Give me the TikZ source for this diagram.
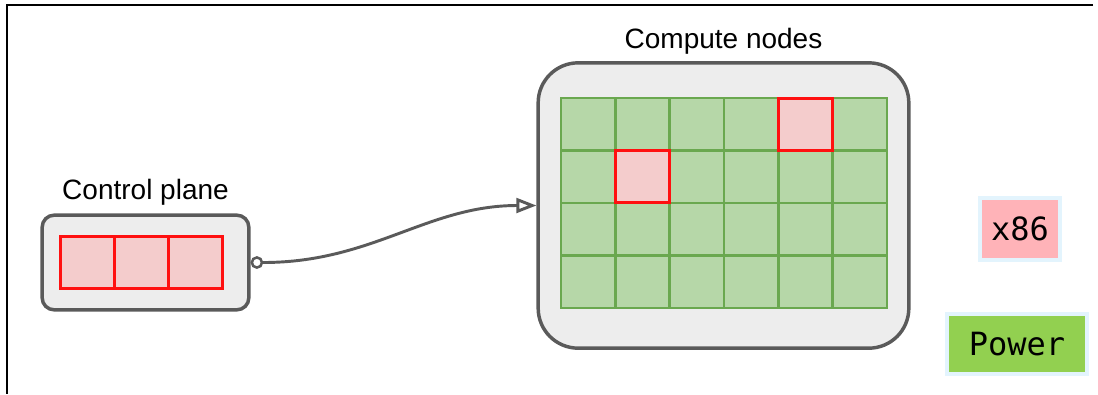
\documentclass[tikz,border=0pt]{standalone}
\usepackage{fontspec}
\setmainfont{Liberation Sans}
\setmonofont{DejaVu Sans Mono}
\usepackage{xcolor}
\usepackage{tikz}
\usetikzlibrary{arrows.meta,positioning}
\definecolor{boxgray}{HTML}{EDEDED}
\definecolor{linegray}{HTML}{5A5A5A}
\definecolor{cellgreen}{HTML}{B6D7A8}
\definecolor{gridgreen}{HTML}{6AA84F}
\definecolor{cellpink}{HTML}{F4CCCC}
\definecolor{cellred}{HTML}{FF1010}
\definecolor{tagpink}{HTML}{FFB3B8}
\definecolor{taggreen}{HTML}{92D050}
\definecolor{tagblue}{HTML}{E3F4FD}
\tikzset{
  groupbox/.style={draw=linegray, line width=2.6pt, fill=boxgray, inner sep=0pt},
  cell/.style={draw=gridgreen, line width=1.8pt, fill=cellgreen, inner sep=0pt, minimum width=40.75pt, minimum height=39.4pt},
  redcell/.style={draw=cellred, line width=2.1pt, fill=cellpink, inner sep=0pt, outer sep=0pt, minimum width=40.5pt, minimum height=39pt},
  grouplabel/.style={inner sep=0pt, font=\fontsize{21}{24}\selectfont},
  tag/.style={draw=tagblue, line width=2.5pt, inner sep=0pt, font=\ttfamily\fontsize{24}{27}\selectfont},
  port/.style={circle, draw=linegray, line width=1.9pt, fill=white, inner sep=0pt, minimum size=7.6pt},
  link/.style={draw=linegray, line width=2.2pt, -{Triangle[length=15pt, width=11pt, fill=white]}}
}
\begin{document}
\begin{tikzpicture}[x=0.75pt, y=-0.75pt]
  \useasboundingbox (0,0) rectangle (1098,394);
  \draw[line width=1.5pt] (1093,5) -- (7,5) -- (7,394);

  % control plane
  \node[groupbox, rounded corners=9pt, minimum width=155pt, minimum height=71pt] (control) at (145.5,262.5) {};
  \node[redcell] (cp-b) at (141.5,262.5) {};
  \node[redcell, left=0pt of cp-b] (cp-a) {};
  \node[redcell, right=0pt of cp-b] (cp-c) {};
  \node[grouplabel, above=6pt of control] (cplabel) {Control plane};
  \node[port, right=0pt of control] (port) {};

  % compute nodes
  \node[groupbox, rounded corners=30pt, minimum width=278pt, minimum height=214pt] (compute) at (723.5,205.5) {};
  \foreach \r in {0,...,3}{
    \foreach \c in {0,...,5}{
      \node[cell] (n-\r-\c) at ({561+54.33*(\c+0.5)},{98+52.5*(\r+0.5)}) {};
    }
  }
  \node[redcell] (cx-a) at (n-0-4) {};
  \node[redcell] (cx-b) at (n-1-1) {};
  \node[grouplabel, above=5pt of compute] (cnlabel) {Compute nodes};

  \draw[link] (port.east) to[out=0, in=180] (compute.west);

  % legend
  \node[tag, fill=tagpink, minimum width=60pt, minimum height=46.5pt] (x86) at (1020,229) {x86};
  \node[tag, fill=taggreen, minimum width=105pt, minimum height=45pt] (power) at (1017,344) {Power};
\end{tikzpicture}
\end{document}
